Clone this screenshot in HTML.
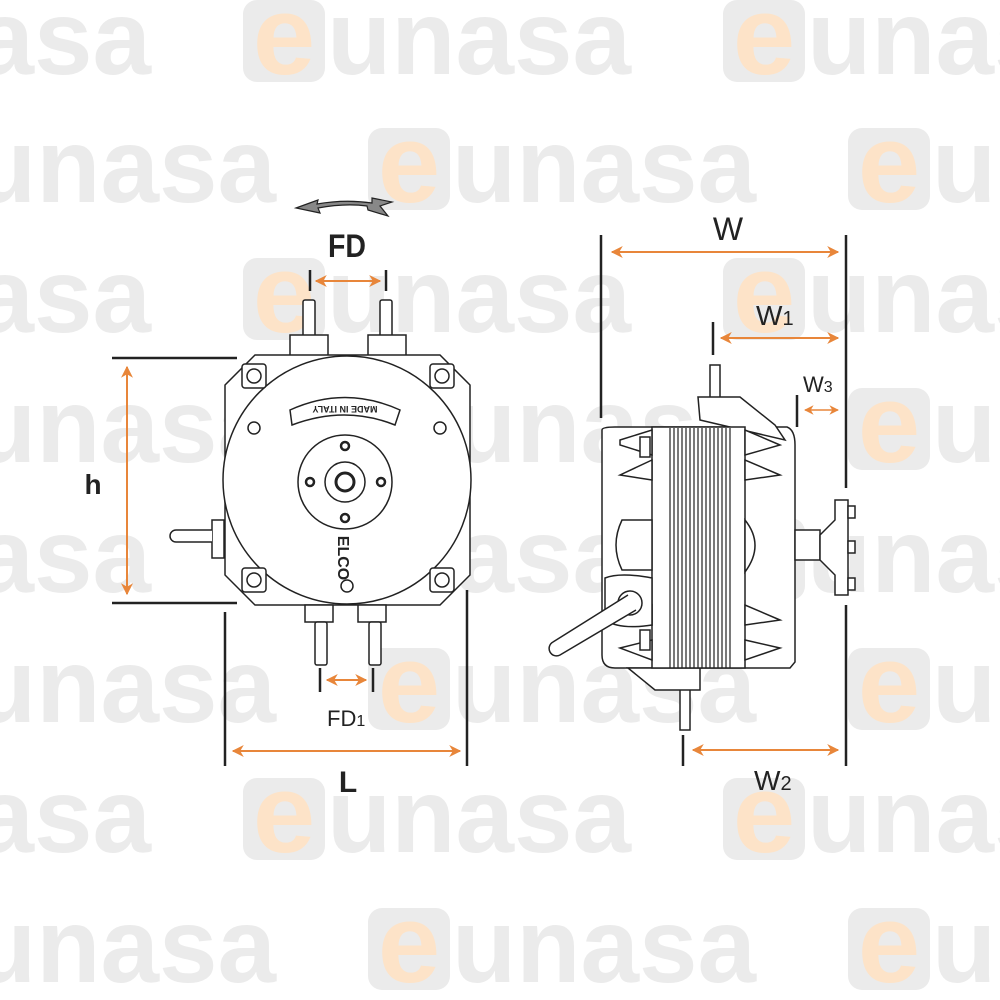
<!DOCTYPE html>
<html><head><meta charset="utf-8"><style>
html,body{margin:0;padding:0;background:#fff}
svg{display:block}
</style></head><body>
<svg width="1000" height="1000" viewBox="0 0 1000 1000" xmlns="http://www.w3.org/2000/svg">
<defs>
<g id="wm">
  <rect x="0" y="0" width="82" height="82" rx="14" fill="#ebebeb"/>
  <text x="41" y="74" text-anchor="middle" font-family="Liberation Sans, sans-serif" font-weight="bold" font-size="112" fill="#fde3c8">e</text>
  <text x="84" y="74" font-family="Liberation Sans, sans-serif" font-weight="bold" font-size="106" fill="#ebebeb" textLength="304" lengthAdjust="spacingAndGlyphs">unasa</text>
</g>
<marker id="ah" viewBox="0 0 10 10" refX="9" refY="5" markerWidth="6" markerHeight="6" orient="auto-start-reverse">
  <path d="M0,0 L10,5 L0,10 L3,5 z" fill="#e8863a"/>
</marker>
</defs>
<g>
  <use href="#wm" x="-237" y="0"/><use href="#wm" x="243" y="0"/><use href="#wm" x="723" y="0"/>
  <use href="#wm" x="-112" y="128"/><use href="#wm" x="368" y="128"/><use href="#wm" x="848" y="128"/>
  <use href="#wm" x="-237" y="258"/><use href="#wm" x="243" y="258"/><use href="#wm" x="723" y="258"/>
  <use href="#wm" x="-112" y="388"/><use href="#wm" x="368" y="388"/><use href="#wm" x="848" y="388"/>
  <use href="#wm" x="-237" y="518"/><use href="#wm" x="243" y="518"/><use href="#wm" x="723" y="518"/>
  <use href="#wm" x="-112" y="648"/><use href="#wm" x="368" y="648"/><use href="#wm" x="848" y="648"/>
  <use href="#wm" x="-237" y="778"/><use href="#wm" x="243" y="778"/><use href="#wm" x="723" y="778"/>
  <use href="#wm" x="-112" y="908"/><use href="#wm" x="368" y="908"/><use href="#wm" x="848" y="908"/>
</g>

<g font-family="Liberation Sans, sans-serif" font-weight="bold" fill="#222">
<path d="M296,208 L318,200 L317,204 Q345,199 372,203 L372,198 L392,202 L380,206 L388,216 L368,210 L367,206 Q345,203 318,208 L320,213 Z" fill="#888" stroke="#222" stroke-width="1.2"/>

<text x="347" y="257" text-anchor="middle" font-size="32" textLength="38" lengthAdjust="spacingAndGlyphs">FD</text>
<g stroke="#222" stroke-width="2.5"><line x1="310" y1="270" x2="310" y2="291"/><line x1="386" y1="270" x2="386" y2="291"/></g>
<line x1="316" y1="281" x2="380" y2="281" stroke="#e8863a" stroke-width="2" marker-start="url(#ah)" marker-end="url(#ah)"/>

<g fill="#fff" stroke="#222" stroke-width="1.5">
  <rect x="303" y="300" width="12" height="55" rx="2"/>
  <rect x="380" y="300" width="12" height="55" rx="2"/>
  <rect x="290" y="335" width="38" height="22"/>
  <rect x="368" y="335" width="38" height="22"/>
  <path d="M255,355 L440,355 L470,385 L470,575 L440,605 L255,605 L225,575 L225,385 Z"/>
  <circle cx="347" cy="480" r="124"/>
  <rect x="242" y="364" width="24" height="24" rx="3"/><circle cx="254" cy="376" r="7"/>
  <rect x="430" y="364" width="24" height="24" rx="3"/><circle cx="442" cy="376" r="7"/>
  <rect x="242" y="568" width="24" height="24" rx="3"/><circle cx="254" cy="580" r="7"/>
  <rect x="430" y="568" width="24" height="24" rx="3"/><circle cx="442" cy="580" r="7"/>
  <circle cx="254" cy="428" r="6"/><circle cx="440" cy="428" r="6"/><circle cx="347" cy="586" r="6"/>
  <path d="M290,410 Q345,385 400,410 L395,425 Q345,405 292,425 Z"/>
  <circle cx="345" cy="482" r="47"/>
  <circle cx="345" cy="482" r="20"/>
  <circle cx="345" cy="482" r="9" stroke-width="3"/>
  <circle cx="345" cy="446" r="4" stroke-width="2.5"/><circle cx="345" cy="518" r="4" stroke-width="2.5"/>
  <circle cx="310" cy="482" r="4" stroke-width="2.5"/><circle cx="381" cy="482" r="4" stroke-width="2.5"/>
  <rect x="212" y="520" width="12" height="38"/>
  <path d="M212,530 L176,530 A6,6 0 0 0 176,542 L212,542"/>
  <rect x="305" y="605" width="28" height="17"/><rect x="358" y="605" width="28" height="17"/>
  <rect x="315" y="622" width="12" height="43" rx="2"/><rect x="369" y="622" width="12" height="43" rx="2"/>
</g>
<text x="345" y="414" text-anchor="middle" font-size="9" transform="rotate(180 345 410)">MADE IN ITALY</text>
<text x="345" y="565" text-anchor="middle" font-size="16" transform="rotate(90 345 558)">ELCO</text>

<g stroke="#222" stroke-width="2.5"><line x1="112" y1="358" x2="237" y2="358"/><line x1="112" y1="603" x2="237" y2="603"/></g>
<line x1="127" y1="367" x2="127" y2="594" stroke="#e8863a" stroke-width="2" marker-start="url(#ah)" marker-end="url(#ah)"/>
<text x="93" y="494" text-anchor="middle" font-size="28">h</text>

<g stroke="#222" stroke-width="2.5"><line x1="320" y1="668" x2="320" y2="692"/><line x1="373" y1="668" x2="373" y2="692"/></g>
<line x1="327" y1="680" x2="366" y2="680" stroke="#e8863a" stroke-width="2" marker-start="url(#ah)" marker-end="url(#ah)"/>
<text x="327" y="726" font-size="22" font-weight="normal">FD<tspan font-size="16">1</tspan></text>

<g stroke="#222" stroke-width="2.5"><line x1="225" y1="612" x2="225" y2="766"/><line x1="467" y1="590" x2="467" y2="766"/></g>
<line x1="233" y1="751" x2="460" y2="751" stroke="#e8863a" stroke-width="2" marker-start="url(#ah)" marker-end="url(#ah)"/>
<text x="348" y="792" text-anchor="middle" font-size="30">L</text>

<g stroke="#222" stroke-width="2.5">
  <line x1="601" y1="235" x2="601" y2="418"/>
  <line x1="846" y1="235" x2="846" y2="488"/><line x1="846" y1="605" x2="846" y2="766"/>
  <line x1="713" y1="322" x2="713" y2="355"/>
  <line x1="797" y1="395" x2="797" y2="427"/>
  <line x1="683" y1="735" x2="683" y2="766"/>
</g>
<line x1="612" y1="252" x2="838" y2="252" stroke="#e8863a" stroke-width="2" marker-start="url(#ah)" marker-end="url(#ah)"/>
<text x="728" y="240" text-anchor="middle" font-size="32" font-weight="normal">W</text>
<line x1="721" y1="338" x2="838" y2="338" stroke="#e8863a" stroke-width="2" marker-start="url(#ah)" marker-end="url(#ah)"/>
<text x="756" y="325" font-size="28" font-weight="normal">W<tspan font-size="20">1</tspan></text>
<line x1="805" y1="410" x2="838" y2="410" stroke="#e8863a" stroke-width="1.6" marker-start="url(#ah)" marker-end="url(#ah)"/>
<text x="803" y="392" font-size="22" font-weight="normal">W<tspan font-size="16">3</tspan></text>
<line x1="693" y1="750" x2="838" y2="750" stroke="#e8863a" stroke-width="2" marker-start="url(#ah)" marker-end="url(#ah)"/>
<text x="754" y="790" font-size="28" font-weight="normal">W<tspan font-size="20">2</tspan></text>

<g fill="#fff" stroke="#222" stroke-width="1.5">
  <rect x="710" y="365" width="10" height="35"/>
  <rect x="680" y="665" width="10" height="65"/>
  <path d="M602,430 Q602,427 615,427 L787,427 Q795,430 795,445 L795,662 L790,668 L615,668 Q602,668 602,655 Z"/>
  <path d="M698,397 L740,397 L775,425 L785,440 L700,420 Z"/>
  <path d="M628,668 L700,668 L700,690 L655,690 Z"/>
  <rect x="652" y="427" width="93" height="241"/>
  <path d="M622,520 Q610,545 622,570 L652,570 L652,520 Z"/>
  <path d="M745,520 Q765,545 745,572 Z"/>
  <path d="M620,440 L652,430 L652,455 L620,445 Z"/><path d="M620,475 L652,460 L652,480 Z"/>
  <path d="M780,445 L745,430 L745,455 Z"/><path d="M780,475 L745,460 L745,480 Z"/>
  <path d="M620,648 L652,640 L652,660 Z"/><path d="M620,620 L652,605 L652,625 Z"/>
  <path d="M780,648 L745,640 L745,660 Z"/><path d="M780,620 L745,605 L745,625 Z"/>
  <rect x="640" y="437" width="10" height="20"/><rect x="640" y="630" width="10" height="20"/>
  <path d="M605,578 Q620,572 652,578 L652,625 Q620,630 605,620 Z"/>
  <circle cx="630" cy="603" r="12"/>
  <path d="M628,595 L553,642 A6,6 0 0 0 560,655 L636,610"/>
  <rect x="795" y="530" width="25" height="30"/>
  <path d="M820,535 L835,520 L835,500 L848,500 L848,595 L835,595 L835,575 L820,560 Z"/>
  <rect x="848" y="506" width="7" height="12"/><rect x="848" y="541" width="7" height="12"/><rect x="848" y="578" width="7" height="12"/>
</g>
<g stroke="#222" stroke-width="1.2">
  <line x1="670" y1="428" x2="670" y2="668"/><line x1="674" y1="428" x2="674" y2="668"/><line x1="678" y1="428" x2="678" y2="668"/>
  <line x1="682" y1="428" x2="682" y2="668"/><line x1="686" y1="428" x2="686" y2="668"/><line x1="690" y1="428" x2="690" y2="668"/>
  <line x1="694" y1="428" x2="694" y2="668"/><line x1="698" y1="428" x2="698" y2="668"/><line x1="702" y1="428" x2="702" y2="668"/>
  <line x1="706" y1="428" x2="706" y2="668"/><line x1="710" y1="428" x2="710" y2="668"/><line x1="714" y1="428" x2="714" y2="668"/>
  <line x1="718" y1="428" x2="718" y2="668"/><line x1="722" y1="428" x2="722" y2="668"/><line x1="726" y1="428" x2="726" y2="668"/>
  <line x1="730" y1="428" x2="730" y2="668"/>
</g>
</g>
</svg>
</body></html>
